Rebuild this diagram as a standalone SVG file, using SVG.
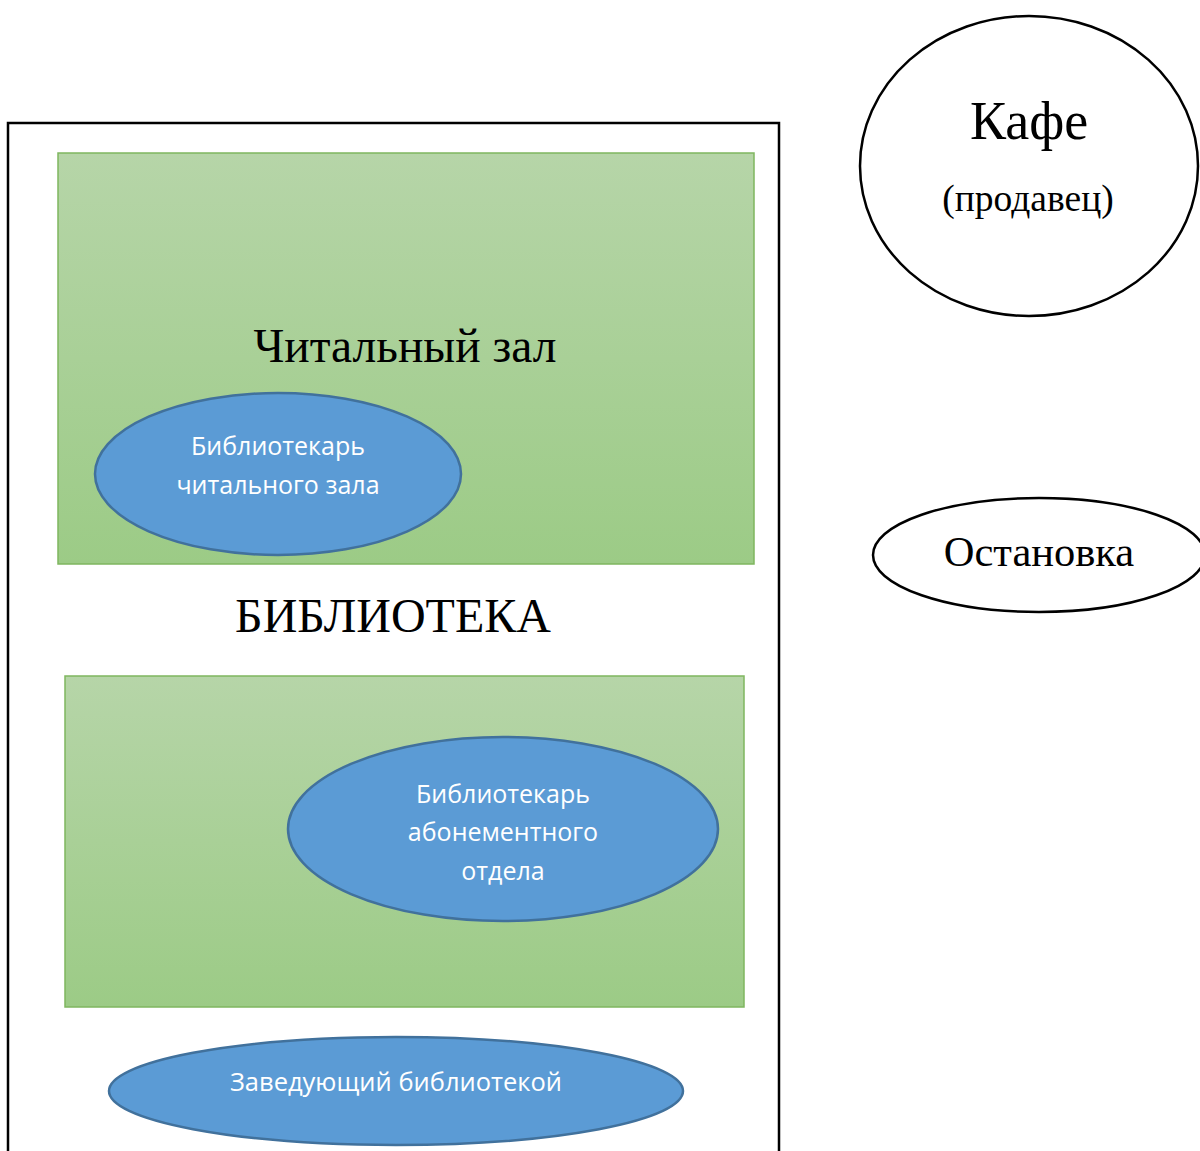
<svg xmlns="http://www.w3.org/2000/svg" width="1200" height="1151" viewBox="0 0 1200 1151">
<defs>
<linearGradient id="g" x1="0" y1="0" x2="0" y2="1">
<stop offset="0" stop-color="#b6d5a8"/>
<stop offset="1" stop-color="#9ccb86"/>
</linearGradient>
<style>
.room{fill:url(#g);stroke:#7fb65f;stroke-width:1.5}
.staff{fill:#5b9bd5;stroke:#41719c;stroke-width:2.5}
.plain{fill:#fff;stroke:#000;stroke-width:2.5}
.serif{font-family:"Liberation Serif","Times New Roman",serif;fill:#000;text-anchor:middle}
.sans{font-family:"Open Sans","Noto Sans","Liberation Sans",sans-serif;fill:#fff;text-anchor:middle;font-size:25px}
</style>
</defs>
<rect width="1200" height="1151" fill="#fff"/>
<g id="library">
<path d="M8 1151 V123 H779 V1151" fill="none" stroke="#000" stroke-width="2.5"/>
<text class="serif" x="393" y="632" font-size="48">БИБЛИОТЕКА</text>
</g>
<g id="reading-room">
<rect class="room" x="58" y="153" width="696" height="411"/>
<text class="serif" x="405" y="362" font-size="47.5">Читальный зал</text>
</g>
<g id="reading-librarian">
<ellipse class="staff" cx="278" cy="474" rx="183" ry="81"/>
<text class="sans" x="278" y="455">Библиотекарь</text>
<text class="sans" x="278" y="494">читального зала</text>
</g>
<g id="loan-room">
<rect class="room" x="65" y="676" width="679" height="331"/>
</g>
<g id="loan-librarian">
<ellipse class="staff" cx="503" cy="829" rx="215" ry="92"/>
<text class="sans" x="503" y="803">Библиотекарь</text>
<text class="sans" x="503" y="841">абонементного</text>
<text class="sans" x="503" y="880">отдела</text>
</g>
<g id="head">
<ellipse class="staff" cx="396" cy="1091" rx="287" ry="54"/>
<text class="sans" x="396" y="1091" textLength="332" lengthAdjust="spacingAndGlyphs">Заведующий библиотекой</text>
</g>
<g id="cafe">
<ellipse class="plain" cx="1029" cy="166" rx="169" ry="150"/>
<text class="serif" x="1029" y="139" font-size="54">Кафе</text>
<text class="serif" x="1028" y="211" font-size="37.5">(продавец)</text>
</g>
<g id="stop">
<ellipse class="plain" cx="1039" cy="555" rx="166" ry="57"/>
<text class="serif" x="1039" y="566" font-size="42.5">Остановка</text>
</g>
<g id="connectors"/>
</svg>
